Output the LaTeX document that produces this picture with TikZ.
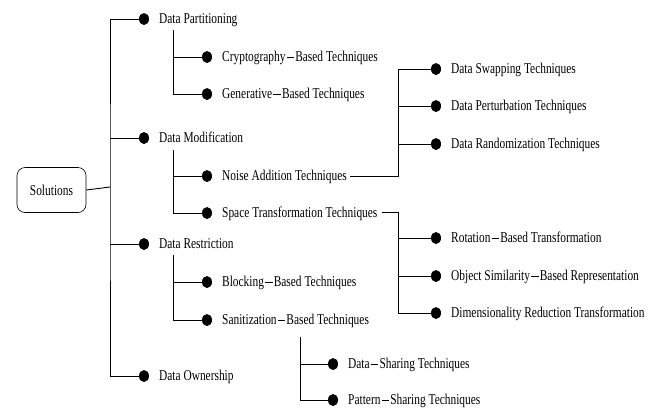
\documentclass[tikz,border=0pt]{standalone}
\usepackage{fontspec}
\setmainfont{Liberation Serif}[FakeStretch=0.76]
\usetikzlibrary{shapes.geometric}
\tikzset{
  bul/.style={ellipse, fill=black, minimum width=10pt, minimum height=12pt, inner sep=0pt},
  lbl/.style={anchor=base west, inner sep=0pt, font=\fontsize{15}{17}\selectfont},
  ln/.style={line width=0.9pt, black},
  rootbox/.style={draw, rounded corners=8pt, line width=0.6pt, minimum width=69pt, minimum height=45pt, inner sep=0pt, font=\fontsize{15}{17}\selectfont}
}
\newcommand{\dsh}{\kern1.1pt\rule[3.6pt]{7.6pt}{0.75pt}\kern1.1pt}
\newcommand{\itm}[4]{%
  \node[bul] (#1) at (#2,#3) {};
  \node[lbl] (#1-t) at (#2+15,#3+4.8) {#4};
}
\begin{document}
\begin{tikzpicture}[x=1pt,y=-1pt]
\useasboundingbox (0,0) rectangle (662,408);
\node[rootbox] (sol) at (51.5,190) {Solutions};
% level 1
\itm{dp}{144}{19}{Data Partitioning}
\itm{dm}{144}{138}{Data Modification}
\itm{dr}{144}{244}{Data Restriction}
\itm{do}{144}{376}{Data Ownership}
% level 2
\itm{cb}{207}{57}{Cryptography\dsh Based Techniques}
\itm{gb}{207}{94}{Generative\dsh Based Techniques}
\itm{na}{207}{176}{Noise Addition Techniques}
\itm{st}{207}{213}{Space Transformation Techniques}
\itm{bb}{207}{282}{Blocking\dsh Based Techniques}
\itm{sb}{207}{320}{Sanitization\dsh Based Techniques}
% level 3
\itm{sw}{436}{69}{Data Swapping Techniques}
\itm{pt}{436}{106}{Data Perturbation Techniques}
\itm{rd}{436}{144}{Data Randomization Techniques}
\itm{rt}{436}{238}{Rotation\dsh Based Transformation}
\itm{os}{436}{276}{Object Similarity\dsh Based Representation}
\itm{dr3}{436}{313}{Dimensionality Reduction Transformation}
\itm{ds}{333}{364}{Data\dsh Sharing Techniques}
\itm{ps}{333}{400}{Pattern\dsh Sharing Techniques}
% junction coordinates
\coordinate (T) at (110,187);
\coordinate (P) at (173,30);
\coordinate (M) at (173,150);
\coordinate (R) at (173,255);
\coordinate (N) at (398,69);
\coordinate (S) at (398,313);
\coordinate (Z) at (300,337);
% connectors
\draw[ln] (sol.east) -- (T);
\draw[ln] (dp) -| (T) |- (do);
\draw[ln] (dm -| T) -- (dm);
\draw[ln] (dr -| T) -- (dr);
\draw[ln] (P) |- (gb);
\draw[ln] (cb -| P) -- (cb);
\draw[ln] (M) |- (st);
\draw[ln] (na -| M) -- (na);
\draw[ln] (R) |- (sb);
\draw[ln] (bb -| R) -- (bb);
\draw[ln] (na-t.east |- na) ++(3,0) -| (N) -- (sw);
\draw[ln] (pt -| N) -- (pt);
\draw[ln] (rd -| N) -- (rd);
\draw[ln] (st-t.east |- st) ++(4,-1) -| (S) -- (dr3);
\draw[ln] (rt -| S) -- (rt);
\draw[ln] (os -| S) -- (os);
\draw[ln] (Z) |- (ps);
\draw[ln] (ds -| Z) -- (ds);
\end{tikzpicture}
\end{document}
